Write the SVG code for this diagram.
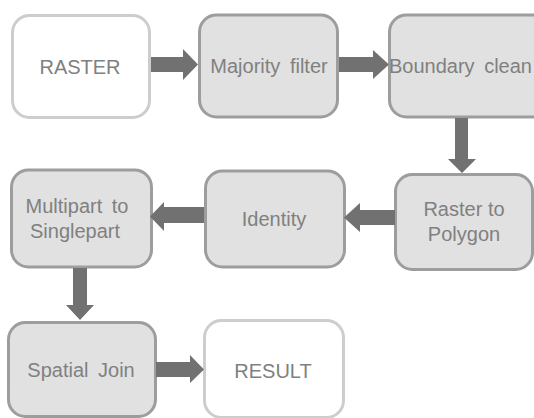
<svg xmlns="http://www.w3.org/2000/svg" width="534" height="418" viewBox="0 0 534 418">
<style>
.g{fill:#e1e1e1;stroke:#9d9d9d;stroke-width:3}
.w{fill:#ffffff;stroke:#cdcdcd;stroke-width:3}
.t{font-family:"Liberation Sans",Arial,sans-serif;font-size:20px;fill:#808080;text-anchor:middle}
.a{fill:#717171}
</style>
<rect width="534" height="418" fill="#ffffff"/>
<g id="raster"><rect class="w" x="12.5" y="15.5" width="137" height="102" rx="17"/><text class="t" x="80" y="74">RASTER</text></g>
<g id="majority"><rect class="g" x="199.5" y="15" width="138" height="102" rx="17"/><text class="t" x="269" y="73" word-spacing="4">Majority filter</text></g>
<g id="boundary"><rect class="g" x="389.5" y="15" width="160" height="102" rx="17"/><text class="t" x="389" y="73" style="text-anchor:start" word-spacing="4">Boundary clean</text></g>
<g id="rastertopolygon"><rect class="g" x="395.5" y="174.5" width="137" height="95" rx="17"/><text class="t" x="464" y="216">Raster to</text><text class="t" x="464" y="241">Polygon</text></g>
<g id="identity"><rect class="g" x="205.5" y="171" width="139" height="96" rx="17"/><text class="t" x="274" y="226">Identity</text></g>
<g id="multipart"><rect class="g" x="11.5" y="170" width="140" height="97" rx="17"/><text class="t" x="77" y="213" word-spacing="4">Multipart to</text><text class="t" x="75" y="238">Singlepart</text></g>
<g id="spatialjoin"><rect class="g" x="8.5" y="322.5" width="147" height="94" rx="17"/><text class="t" x="81" y="377" word-spacing="4">Spatial Join</text></g>
<g id="result"><rect class="w" x="204.5" y="320.5" width="139" height="97" rx="17"/><text class="t" x="273" y="378">RESULT</text></g>
<g id="connectors">
<polygon class="a" points="151,57 183,57 183,49 198,64.5 183,80 183,72 151,72"/>
<polygon class="a" points="339,57 373,57 373,50 389,64.5 373,79 373,72 339,72"/>
<polygon class="a" points="455,118 468,118 468,159 476,159 462,173 448,159 455,159"/>
<polygon class="a" points="395,210 360,210 360,203 344,217.5 360,232 360,225 395,225"/>
<polygon class="a" points="204,207 164,207 164,202 150,216.5 164,231 164,223 204,223"/>
<polygon class="a" points="73,268 87,268 87,305 94,305 80,320 66,305 73,305"/>
<polygon class="a" points="156,362 190,362 190,355 204,369.5 190,383 190,377 156,377"/>
</g>
</svg>
